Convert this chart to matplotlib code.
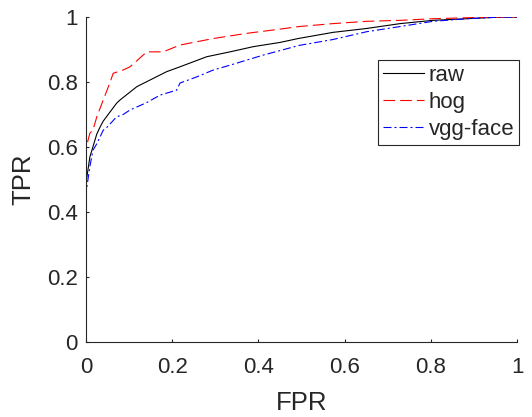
import matplotlib.pyplot as plt

# ROC curves
raw_fpr = [0, 0, 0.009, 0.025, 0.032, 0.04, 0.071, 0.079, 0.118, 0.148, 0.187,
           0.218, 0.28, 0.334, 0.388, 0.45, 0.492, 0.573, 0.651, 0.729, 0.805,
           0.883, 0.96, 1.0]
raw_tpr = [0, 0.49, 0.57, 0.64, 0.66, 0.68, 0.735, 0.745, 0.786, 0.806, 0.832,
           0.847, 0.878, 0.893, 0.909, 0.922, 0.934, 0.953, 0.965, 0.98, 0.99,
           0.995, 1.0, 1.0]

hog_fpr = [0, 0, 0.009, 0.016, 0.025, 0.04, 0.056, 0.063, 0.086, 0.102, 0.141,
           0.179, 0.218, 0.295, 0.373, 0.45, 0.495, 0.573, 0.651, 0.729, 0.805,
           0.883, 0.96, 1.0]
hog_tpr = [0, 0.597, 0.643, 0.652, 0.693, 0.745, 0.80, 0.827, 0.837, 0.847,
           0.893, 0.893, 0.914, 0.934, 0.95, 0.963, 0.971, 0.98, 0.987, 0.99,
           0.995, 0.998, 1.0, 1.0]

vgg_fpr = [0, 0, 0.009, 0.016, 0.025, 0.04, 0.048, 0.071, 0.086, 0.102, 0.141,
           0.172, 0.21, 0.218, 0.257, 0.295, 0.334, 0.411, 0.495, 0.573, 0.651,
           0.729, 0.805, 0.883, 0.96, 1.0]
vgg_tpr = [0, 0.46, 0.54, 0.59, 0.61, 0.652, 0.66, 0.693, 0.70, 0.714, 0.737,
           0.76, 0.775, 0.797, 0.816, 0.837, 0.852, 0.883, 0.913, 0.931, 0.955,
           0.971, 0.987, 0.995, 1.0, 1.0]

ticks = [0, 0.2, 0.4, 0.6, 0.8, 1]
tick_labels = ['0', '0.2', '0.4', '0.6', '0.8', '1']


def output():
    plt.rcParams['font.family'] = ['Liberation Sans', 'DejaVu Sans']
    ink = '#262626'

    fig = plt.figure(figsize=(5.32, 4.17), dpi=100)
    ax = fig.add_axes([0.1617, 0.18, 0.8103, 0.779])

    ax.plot(raw_fpr, raw_tpr, '-', color='black', lw=0.8, label='raw')
    ax.plot(hog_fpr, hog_tpr, '--', color='red', lw=0.8, label='hog',
            dashes=(10.5, 4.5))
    ax.plot(vgg_fpr, vgg_tpr, '-.', color='blue', lw=0.8, label='vgg-face',
            dashes=(7.2, 2.7, 1.8, 2.7))

    ax.set_xlim(0, 1)
    ax.set_ylim(0, 1)
    ax.set_xticks(ticks)
    ax.set_xticklabels(tick_labels)
    ax.set_yticks(ticks)
    ax.set_yticklabels(tick_labels)
    ax.tick_params(direction='in', length=2.5, width=0.8, color=ink,
                   labelsize=16, labelcolor=ink)
    ax.tick_params(axis='x', pad=11)
    ax.tick_params(axis='y', pad=6)
    for side in ['top', 'right']:
        ax.spines[side].set_visible(False)
    for side in ['left', 'bottom']:
        ax.spines[side].set_color(ink)
        ax.spines[side].set_linewidth(0.8)

    ax.set_xlabel('FPR', fontsize=18.5, color=ink, labelpad=9)
    ax.set_ylabel('TPR', fontsize=18.5, color=ink, labelpad=8)

    leg = ax.legend(loc='upper left', bbox_to_anchor=(0.677, 0.868),
                    fontsize=16, fancybox=False, framealpha=1,
                    handlelength=1.85, handletextpad=0.2, borderpad=0.23,
                    labelspacing=0.27, borderaxespad=0)
    leg.get_frame().set_edgecolor(ink)
    leg.get_frame().set_linewidth(0.8)
    for t in leg.get_texts():
        t.set_color(ink)

    fig.savefig('out.png', dpi=100)


if __name__ == '__main__':
    output()
